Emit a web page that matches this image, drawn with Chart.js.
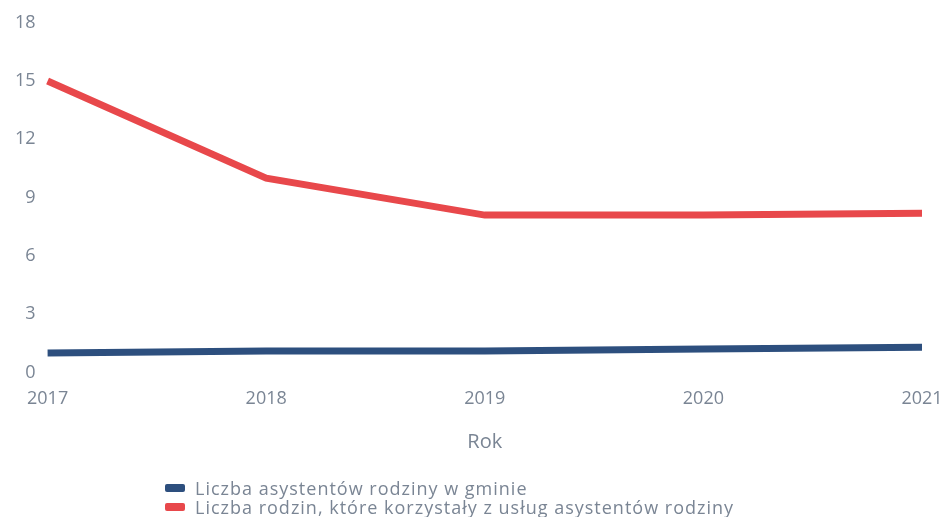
<!DOCTYPE html>
<html>
<head>
<meta charset="utf-8">
<script src="https://cdn.jsdelivr.net/npm/chart.js@4"></script>
<style>
  html, body { margin: 0; padding: 0; background: #ffffff; }
  #wrap { position: relative; width: 944px; height: 517px; overflow: hidden; }
  #legend { position: absolute; left: 165px; top: 479px; font-family: "Open Sans", sans-serif; font-size: 18px; letter-spacing: 1px; color: #7a8594; line-height: 18.5px; }
  #legend div { display: flex; align-items: center; white-space: nowrap; }
  #legend span.box { display: inline-block; width: 20px; height: 8px; margin-right: 10px; border-radius: 2px; }
</style>
</head>
<body>
<div id="wrap">
  <canvas id="c" width="944" height="517"></canvas>
  <div id="legend"></div>
</div>
<script>
const years = ["2017", "2018", "2019", "2020", "2021"];
const assistants = [1, 1.1, 1.1, 1.2, 1.3];
const families = [15, 10, 8.1, 8.1, 8.2];
const seriesNames = [
  "Liczba asystentów rodziny w gminie",
  "Liczba rodzin, które korzystały z usług asystentów rodziny"
];
const yTicks = [0, 3, 6, 9, 12, 15, 18];
const xTitle = "Rok";

const colors = ["#2d4f7e", "#e8484b"];
const tickColor = "#7a8594";

const chart = new Chart(document.getElementById("c"), {
  type: "line",
  data: {
    labels: years,
    datasets: [
      { label: seriesNames[0], data: assistants, borderColor: colors[0], backgroundColor: colors[0], borderWidth: 7, pointRadius: 0, tension: 0 },
      { label: seriesNames[1], data: families, borderColor: colors[1], backgroundColor: colors[1], borderWidth: 7, pointRadius: 0, tension: 0 }
    ]
  },
  options: {
    responsive: false,
    animation: false,
    layout: { padding: { top: 13, left: 3, right: 0, bottom: 59 } },
    plugins: { legend: { display: false }, tooltip: { enabled: false } },
    scales: {
      x: {
        offset: false,
        afterFit: (s) => { s.paddingRight = 22; },
        grid: { display: false, drawTicks: false },
        border: { display: false },
        ticks: { color: tickColor, font: { family: "Open Sans", size: 18 }, padding: 16, maxRotation: 0 },
        title: { display: true, text: xTitle, color: tickColor, font: { family: "Open Sans", size: 20 }, padding: { top: 4 } }
      },
      y: {
        min: 0, max: 18,
        afterBuildTicks: (s) => { s.ticks = yTicks.map(v => ({ value: v })); },
        grid: { display: false, drawTicks: false },
        border: { display: false },
        ticks: { color: tickColor, font: { family: "Open Sans", size: 18 }, padding: 12 }
      }
    }
  }
});

const leg = document.getElementById("legend");
chart.data.datasets.forEach((ds) => {
  const row = document.createElement("div");
  const box = document.createElement("span");
  box.className = "box";
  box.style.background = ds.borderColor;
  row.appendChild(box);
  row.appendChild(document.createTextNode(ds.label));
  leg.appendChild(row);
});
</script>
</body>
</html>
